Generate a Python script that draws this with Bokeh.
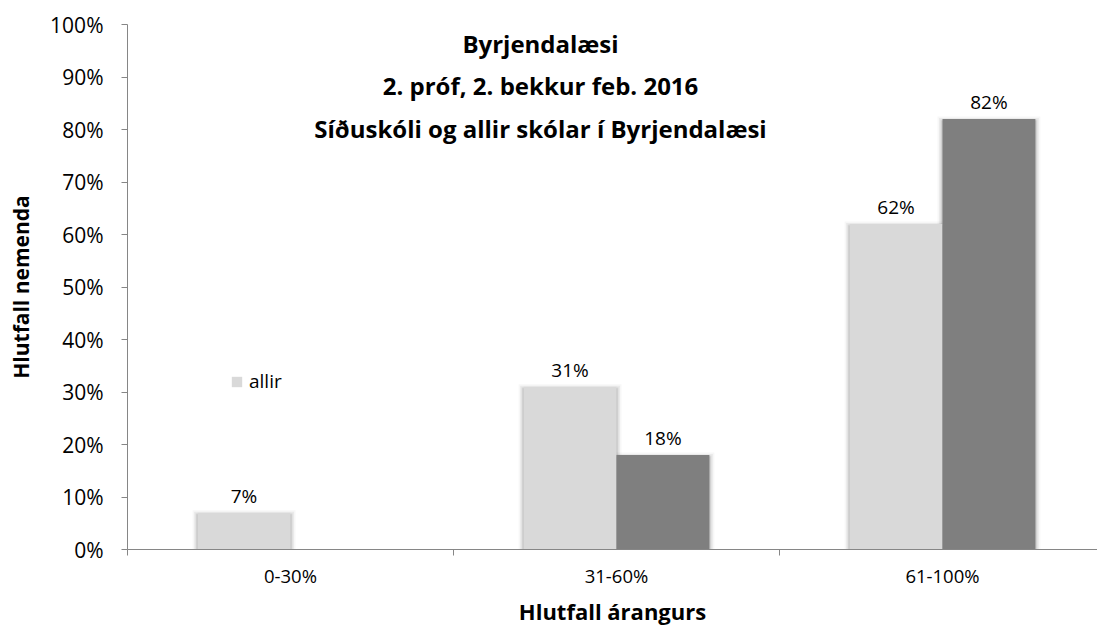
from bokeh.plotting import figure
from bokeh.models import (Range1d, FixedTicker, PrintfTickFormatter, Label, Legend,
                          LegendItem, ColumnDataSource)
from bokeh.core.properties import value
from bokeh.embed import file_html
from bokeh.resources import INLINE

# ---- data ----
categories = ["0-30%", "31-60%", "61-100%"]
allir = [7, 31, 62]
sidusk = [0, 18, 82]
series_names = ["allir", "Síðuskóli"]
y_ticks = [0, 10, 20, 30, 40, 50, 60, 70, 80, 90, 100]
title_lines = ["Byrjendalæsi", "2. próf, 2. bekkur feb. 2016",
               "Síðuskóli og allir skólar í Byrjendalæsi"]
x_title = "Hlutfall árangurs"
y_title = "Hlutfall nemenda"

# ---- styling ----
LIGHT = "#D9D9D9"
DARK = "#7F7F7F"
AXIS = "#868686"
FONT = "Open Sans"
W, H = 1097, 628
LEFT, TOP, BOTTOM = 127, 24, 77
CAT_PX = 326.0
FRAME_W = W - LEFT
FRAME_H = H - TOP - BOTTOM
BAR_W = 0.285
PX_X = 1.0 / CAT_PX
PX_Y = 100.0 / FRAME_H

n = len(categories)
centers = [i + 0.5 for i in range(n)]

p = figure(width=W, height=H, output_backend="svg", toolbar_location=None,
           x_range=Range1d(0, FRAME_W / CAT_PX), y_range=Range1d(0, 100),
           min_border_left=LEFT, min_border_right=0, min_border_top=TOP,
           min_border_bottom=BOTTOM, outline_line_color=None,
           background_fill_color="white", border_fill_color="white")
p.xgrid.visible = False
p.ygrid.visible = False

# soft shadows
for vals, side in ((allir, -1), (sidusk, 1)):
    x0 = [c if side > 0 else c - BAR_W for c in centers]
    x1 = [c + BAR_W if side > 0 else c for c in centers]
    for e, a in ((5, 0.03), (3.5, 0.05), (2, 0.07), (1, 0.09)):
        keep = [i for i, v in enumerate(vals) if v > 0]
        p.quad(left=[x0[i] - e * PX_X for i in keep],
               right=[x1[i] + e * PX_X for i in keep],
               top=[vals[i] + (e - 2.5) * PX_Y for i in keep],
               bottom=[0] * len(keep),
               fill_color="black", fill_alpha=a, line_color=None)

src_a = ColumnDataSource(dict(x=[c - BAR_W / 2 for c in centers], top=allir,
                              lab=[f"{v}%" if v else "" for v in allir]))
src_s = ColumnDataSource(dict(x=[c + BAR_W / 2 for c in centers], top=sidusk,
                              lab=[f"{v}%" if v else "" for v in sidusk]))
ra = p.vbar(x="x", top="top", width=BAR_W, source=src_a, fill_color=LIGHT, line_color=None)
rs = p.vbar(x="x", top="top", width=BAR_W, source=src_s, fill_color=DARK, line_color=None)

for src in (src_a, src_s):
    p.text(x="x", y="top", text="lab", source=src, text_align="center",
           text_baseline="alphabetic", y_offset=-17, text_font=value(FONT),
           text_font_size="19px", text_color="#000000")

# axes
xa = p.xaxis[0]
xa.ticker = FixedTicker(ticks=centers, minor_ticks=list(range(0, n + 1)))
xa.major_label_overrides = {c: cat for c, cat in zip(centers, categories)}
xa.major_tick_out = 0
xa.major_tick_in = 0
xa.minor_tick_out = 6
xa.minor_tick_in = 0
xa.minor_tick_line_color = AXIS
xa.axis_line_color = AXIS
xa.major_label_text_font = FONT
xa.major_label_text_font_size = "18.5px"
xa.major_label_text_color = "#000000"
xa.major_label_standoff = 7
xa.axis_label = x_title
xa.axis_label_text_font = FONT
xa.axis_label_text_font_style = "bold"
xa.axis_label_text_font_size = "22px"
xa.axis_label_text_color = "#000000"
xa.axis_label_standoff = 5

ya = p.yaxis[0]
ya.ticker = FixedTicker(ticks=y_ticks)
ya.formatter = PrintfTickFormatter(format="%d%%")
ya.major_tick_out = 6
ya.major_tick_in = 0
ya.minor_tick_out = 0
ya.minor_tick_in = 0
ya.major_tick_line_color = AXIS
ya.axis_line_color = AXIS
ya.major_label_text_font = FONT
ya.major_label_text_font_size = "21px"
ya.major_label_text_color = "#000000"
ya.major_label_standoff = 18
ya.axis_label = y_title
ya.axis_label_text_font = FONT
ya.axis_label_text_font_style = "bold"
ya.axis_label_text_font_size = "21px"
ya.axis_label_text_color = "#000000"
ya.axis_label_standoff = 12

# title lines (overlaid on plot area)
TITLE_X = (540 - LEFT) / CAT_PX
for line, base in zip(title_lines, (43, 85.5, 128)):
    p.add_layout(Label(x=TITLE_X, y=(H - BOTTOM - base) * PX_Y, text=line,
                       text_align="center", text_baseline="alphabetic",
                       text_font=FONT, text_font_style="bold",
                       text_font_size="24px", text_color="#000000"))

legend = Legend(items=[LegendItem(label=series_names[0], renderers=[ra])],
                location=(103, 155), padding=0, margin=0, spacing=0,
                border_line_alpha=0, background_fill_alpha=0,
                glyph_width=13, glyph_height=13, label_height=13,
                label_standoff=6, label_text_font=FONT,
                label_text_font_size="19px", label_text_color="#000000")
p.add_layout(legend)

open("out.html", "w").write(file_html(p, INLINE))
